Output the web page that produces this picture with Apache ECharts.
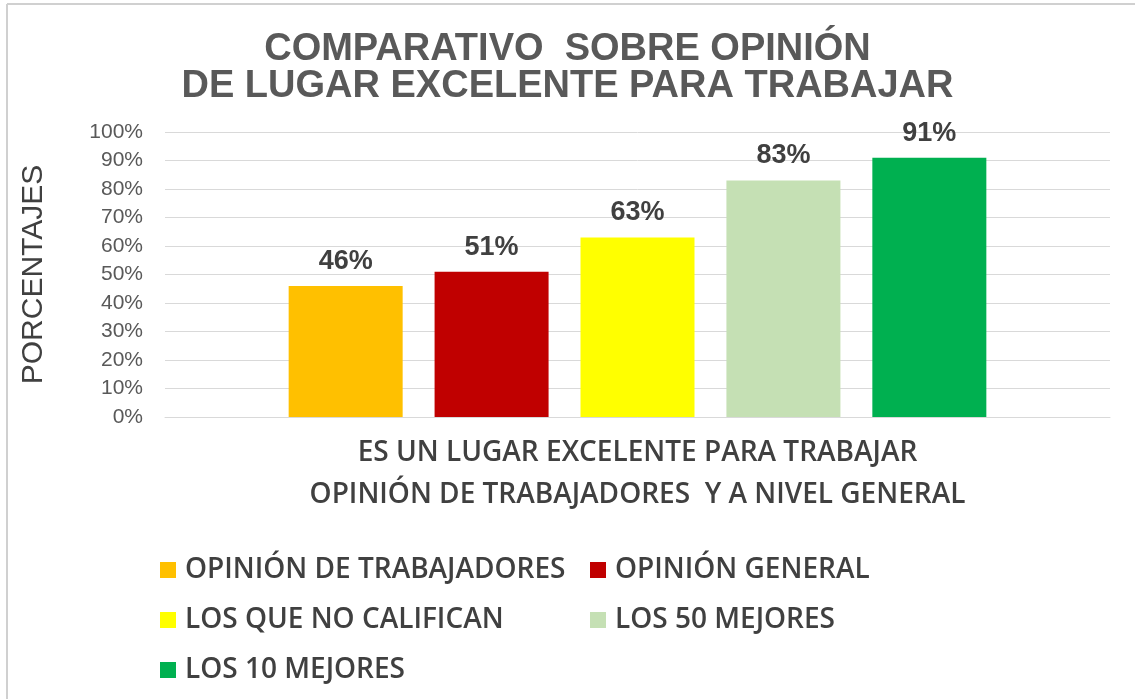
<!DOCTYPE html>
<html>
<head>
<meta charset="utf-8">
<script src="https://cdn.jsdelivr.net/npm/echarts@6/dist/echarts.min.js"></script>
<style>
  html, body { margin: 0; padding: 0; background: #fff; }
  #chart { width: 1135px; height: 699px; }
</style>
</head>
<body>
<div id="chart"></div>
<script>
// data
const seriesNames = ['OPINIÓN DE TRABAJADORES', 'OPINIÓN GENERAL', 'LOS QUE NO CALIFICAN', 'LOS 50 MEJORES', 'LOS 10 MEJORES']
const seriesValues = [0.46, 0.51, 0.63, 0.83, 0.91]
const seriesColors = ['#FFC000', '#C00000', '#FFFF00', '#C5E0B4', '#00B050']
const categories = ['']
const leftLegend = ['OPINIÓN DE TRABAJADORES', 'LOS QUE NO CALIFICAN', 'LOS 10 MEJORES']
const rightLegend = ['OPINIÓN GENERAL', 'LOS 50 MEJORES']

const chart = echarts.init(document.getElementById('chart'))

const legendText = {
  fontFamily: 'Open Sans',
  fontWeight: 600,
  fontSize: 28,
  color: '#404040',
  lineHeight: 28,
  padding: [0, 0, 0, 4]
}

const series = seriesNames.map((name, i) => ({
  name: name,
  type: 'bar',
  barWidth: 114,
  barGap: '28%',
  data: [seriesValues[i]],
  itemStyle: { color: seriesColors[i] },
  label: {
    show: true,
    position: 'top',
    distance: 11,
    formatter: p => Math.round(p.value * 100) + '%',
    fontFamily: 'Liberation Sans',
    fontWeight: 'bold',
    fontSize: 27,
    color: '#404040'
  }
}))

const option = {
  animation: false,
  title: {
    text: 'COMPARATIVO  SOBRE OPINIÓN\nDE LUGAR EXCELENTE PARA TRABAJAR',
    left: 'center',
    top: 26,
    textStyle: {
      fontFamily: 'Liberation Sans',
      fontWeight: 'bold',
      fontSize: 38,
      lineHeight: 37,
      color: '#595959'
    }
  },
  graphic: [
    { type: 'line', shape: { x1: 7, y1: 4, x2: 1135, y2: 4 }, style: { stroke: '#d0d0d0', lineWidth: 2 } },
    { type: 'line', shape: { x1: 7, y1: 4, x2: 7, y2: 699 }, style: { stroke: '#d0d0d0', lineWidth: 2 } }
  ],
  legend: [
    {
      data: leftLegend,
      orient: 'vertical',
      left: 160,
      top: 556,
      padding: 0,
      itemWidth: 16,
      itemHeight: 16,
      itemGap: 22,
      icon: 'rect',
      textStyle: legendText
    },
    {
      data: rightLegend,
      orient: 'vertical',
      left: 590,
      top: 556,
      padding: 0,
      itemWidth: 16,
      itemHeight: 16,
      itemGap: 22,
      icon: 'rect',
      textStyle: legendText
    }
  ],
  grid: {
    left: 165,
    right: 25,
    top: 132,
    bottom: 282
  },
  xAxis: {
    type: 'category',
    data: categories,
    axisTick: { show: false },
    axisLabel: { show: false },
    axisLine: { lineStyle: { color: '#d9d9d9', width: 1 } },
    name: 'ES UN LUGAR EXCELENTE PARA TRABAJAR\nOPINIÓN DE TRABAJADORES  Y A NIVEL GENERAL',
    nameLocation: 'middle',
    nameGap: 15,
    nameTextStyle: {
      fontFamily: 'Open Sans',
      fontWeight: 600,
      fontSize: 28,
      lineHeight: 42,
      color: '#404040',
      verticalAlign: 'top'
    }
  },
  yAxis: {
    type: 'value',
    min: 0,
    max: 1,
    interval: 0.1,
    axisLine: { show: false },
    axisTick: { show: false },
    axisLabel: {
      formatter: v => Math.round(v * 100) + '%',
      fontFamily: 'Liberation Sans',
      fontSize: 21,
      color: '#595959',
      margin: 22
    },
    splitLine: { lineStyle: { color: '#d9d9d9', width: 1 } },
    name: 'PORCENTAJES',
    nameLocation: 'middle',
    nameRotate: 90,
    nameGap: 116,
    nameTextStyle: {
      fontFamily: 'Liberation Sans',
      fontSize: 30,
      color: '#404040'
    }
  },
  series: series
}

chart.setOption(option)
</script>
</body>
</html>
